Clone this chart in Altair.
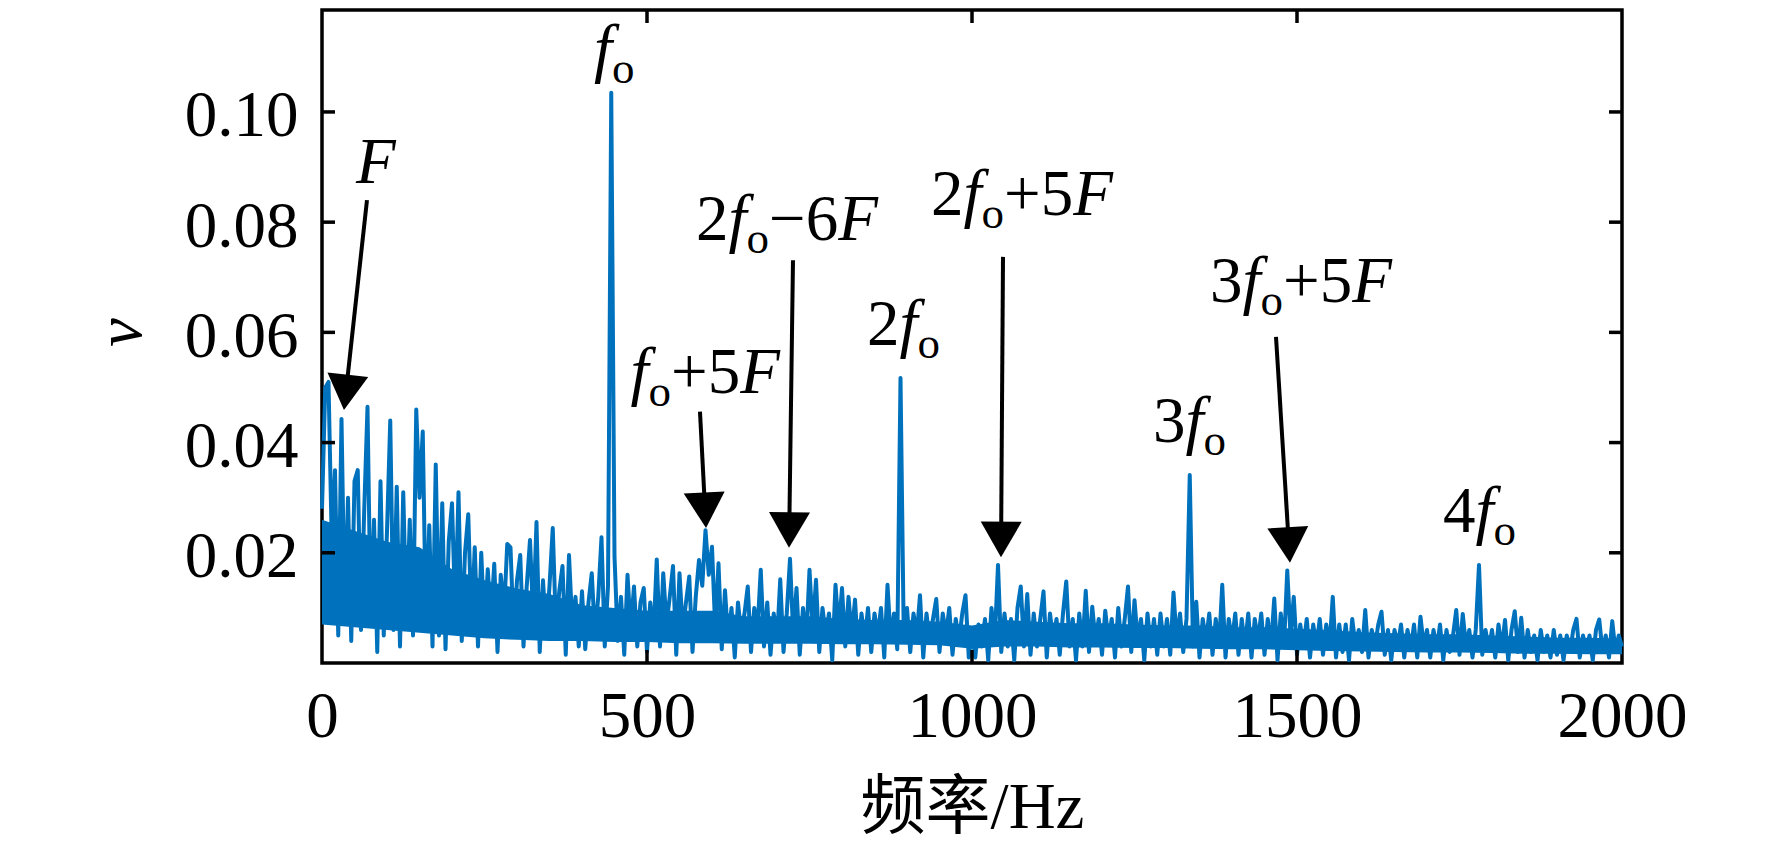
import math
import altair as alt
import pandas as pd

# ---------------- spectrum data (amplitude v, every 5 Hz, in units of 1e-3) ----------------
amp_0000 = [28, 50, 51, 22, 35, 5, 44.3, 8, 30, 4, 33, 35, 6, 28, 46.5, 7, 26, 2, 33, 5]
amp_0100 = [24, 44, 6, 32, 3, 31, 7, 26, 5, 46, 30, 42, 6, 25, 3, 36, 5, 29, 2.5, 22]
amp_0200 = [29, 9, 31, 4, 20, 27, 7, 21, 3, 20, 6, 17, 8, 18, 2, 16, 9, 21.6, 21, 5]
amp_0300 = [15, 19.6, 3, 14, 22.3, 8, 25.6, 2, 15, 5, 14, 24.5, 6, 13, 17.6, 1.5, 19.6, 7, 12, 3]
amp_0400 = [13, 2.5, 11, 16.3, 5, 12, 22.8, 3, 14, 103.5, 19.3, 4, 12, 1.5, 16, 6, 13.9, 3, 11, 13.6]
amp_0500 = [2, 11, 5, 18.8, 3, 16.3, 7, 12, 17.6, 1.5, 16.3, 6, 11, 15.7, 2, 12, 18.7, 14, 24.1, 16]
amp_0600 = [21.1, 6, 18.1, 2.5, 13.2, 4, 10, 1, 11, 5, 9, 13.9, 2, 10, 6, 16.9, 3, 11, 1.5, 9]
amp_0700 = [4, 15.2, 2, 9, 18.9, 5, 13.6, 1.5, 10, 4, 16.9, 6, 15.1, 2, 10, 5, 9, 0.5, 14.2, 6]
amp_0800 = [13.6, 3, 12, 5, 11.5, 1.5, 9, 4, 10, 2, 9, 5, 10, 1, 14.2, 4, 9, 2.5, 51.7, 5]
amp_0900 = [10, 2, 9, 5, 12.3, 1, 9, 4, 8, 11.6, 2, 9, 5, 10, 1.5, 8, 4, 9, 12.3, 1]
amp_1000 = [6, 1, 7, 3, 8, 0.5, 10, 4, 17.8, 2, 9, 3, 8, 0.5, 10, 13.9, 3, 12.5, 1.5, 9]
amp_1100 = [3, 8, 13, 1, 9, 4, 8, 1.5, 9, 14.8, 3, 8, 0.5, 9, 3, 13.1, 2, 10.2, 4, 8]
amp_1200 = [1.5, 9.5, 4, 8, 1, 10, 3, 8, 13.9, 2, 11.4, 4, 8, 0.5, 9, 3, 8, 1.5, 9, 3]
amp_1300 = [8, 1.5, 12.8, 4, 9, 2, 8, 34.1, 3, 11.1, 1, 8, 4, 9, 1.5, 8, 3, 14.2, 1, 8]
amp_1400 = [4, 9, 1.5, 8, 3, 9, 1, 8, 4, 9, 1.5, 8, 3, 11.7, 0.5, 9, 3, 16.8, 5, 12]
amp_1500 = [1.5, 7, 3, 8, 1, 7, 3, 8, 1.5, 7, 3, 12, 1, 7, 2, 7, 0.5, 8, 3, 6]
amp_1600 = [2, 9.6, 1, 6, 3, 7, 9.3, 1.5, 6, 0.5, 6, 3, 7, 1, 6, 2.5, 7, 1, 8.4, 3]
amp_1700 = [6, 1, 6, 2.5, 7, 0.5, 6, 2, 5, 9.6, 1.5, 8.9, 3, 6, 1, 6, 17.8, 1.5, 6, 2.5]
amp_1800 = [6, 1, 7, 2.5, 7.8, 0.5, 6, 9.4, 2, 8.2, 1, 6, 2, 5, 0.5, 6, 2, 5, 1, 6]
amp_1900 = [1.5, 5, 0.5, 5, 2, 6, 8, 1, 5, 2, 5, 0.5, 6, 7.9, 2, 5, 1, 7.6, 2, 5]
amp_2000 = [3]

# dense noise band of the spectrum (lower / upper edge of the solid core), every 50 Hz, 1e-3
core_low = [7, 6.5, 6, 5.5, 5, 4.5, 4.2, 4, 4, 3.8,
            3.8, 3.6, 3.6, 3.5, 3.5, 3.5, 3.4, 3.4, 3.3, 3.2,
            2.6, 3, 3, 2.8, 2.8, 2.7, 2.7, 2.6, 2.5, 2.5,
            2.3, 2.2, 2.1, 2, 1.9, 1.9, 1.8, 1.7, 1.7, 1.6,
            1.6]
core_high = [26, 24, 22, 21, 17, 15, 13.5, 12.5, 10.5, 10,
             9.5, 9.5, 9.5, 8.5, 8.5, 8.5, 8, 7.8, 7.8, 7.5,
             6.8, 7.8, 7.5, 7.2, 7.2, 7, 6.8, 6.8, 6.5, 6.5,
             6.2, 6, 5.6, 5.4, 5.2, 5.2, 5, 4.8, 4.6, 4.6,
             4.4]

STEP_HZ = 5
CORE_STEP_HZ = 50
amp_rows = [amp_0000, amp_0100, amp_0200, amp_0300, amp_0400, amp_0500, amp_0600,
            amp_0700, amp_0800, amp_0900, amp_1000, amp_1100, amp_1200, amp_1300,
            amp_1400, amp_1500, amp_1600, amp_1700, amp_1800, amp_1900, amp_2000]
amplitude = [a / 1000.0 for row in amp_rows for a in row]
frequency = [i * STEP_HZ for i in range(len(amplitude))]

# ---------------- axes ----------------
x_tick_values = [0, 500, 1000, 1500, 2000]
x_inner_ticks = [500, 1000, 1500]
y_tick_values = [0.02, 0.04, 0.06, 0.08, 0.10]
x_title = "频率/Hz"
y_title = "v"

# ---------------- annotations ----------------
# anchor = origin of first glyph on the baseline (Hz, v)
label_hz = [52.3, 418.5, 474.6, 575.4, 838.5, 936.9, 1366.2, 1278.5, 1724.6]
label_val = [0.0871, 0.1076, 0.0490, 0.0768, 0.0577, 0.0813, 0.0655, 0.0401, 0.0238]
label_parts = [
    [("F", "i")],
    [("f", "i"), ("o", "s")],
    [("f", "i"), ("o", "s"), ("+5", "r"), ("F", "i")],
    [("2", "r"), ("f", "i"), ("o", "s"), ("\u22126", "r"), ("F", "i")],
    [("2", "r"), ("f", "i"), ("o", "s")],
    [("2", "r"), ("f", "i"), ("o", "s"), ("+5", "r"), ("F", "i")],
    [("3", "r"), ("f", "i"), ("o", "s"), ("+5", "r"), ("F", "i")],
    [("3", "r"), ("f", "i"), ("o", "s")],
    [("4", "r"), ("f", "i"), ("o", "s")],
]
arrow_from_hz = [69.2, 581.5, 724.6, 1047.7, 1467.7]
arrow_from_val = [0.0840, 0.0456, 0.0731, 0.0737, 0.0592]
arrow_to_hz = [33.8, 590.8, 718.5, 1044.6, 1489.2]
arrow_to_val = [0.0459, 0.0245, 0.0209, 0.0192, 0.0182]

# ---------------- layout ----------------
W, H = 1300, 653
X_DOMAIN = [0, 2000]
Y_DOMAIN = [0, 0.1185]
px_per_hz = W / (X_DOMAIN[1] - X_DOMAIN[0])
px_per_val = H / (Y_DOMAIN[1] - Y_DOMAIN[0])

FONT = "Liberation Serif"
FONT_CJK = "Liberation Serif, Noto Sans CJK SC"
MAIN_SIZE = 65
SUB_SIZE = 45
SUB_DROP = 13
BLUE = "#0072BD"

em_regular = {"+": 0.564, "\u2212": 0.564}
em_italic = {"f": 0.278, "F": 0.611}


def seg_width(text, style):
    w = 0.0
    for ch in text:
        if style == "r":
            w += em_regular.get(ch, 0.5) * MAIN_SIZE
        elif style == "i":
            w += em_italic.get(ch, 0.5) * MAIN_SIZE
        else:
            w += 0.5 * SUB_SIZE
    return w


seg_rows = []
for hz, val, parts in zip(label_hz, label_val, label_parts):
    cum = 0.0
    for text, style in parts:
        seg_rows.append({"x": hz + cum / px_per_hz, "y": val, "text": text, "style": style})
        cum += seg_width(text, style)
seg_df = pd.DataFrame(seg_rows)

HEAD_W = 41
HEAD_SIZE = HEAD_W ** 2
HEAD_H = math.sqrt(3) / 2 * HEAD_W / 2  # centre-to-tip distance

shaft_rows, head_rows = [], []
for x0, y0, x1, y1 in zip(arrow_from_hz, arrow_from_val, arrow_to_hz, arrow_to_val):
    dxp = (x1 - x0) * px_per_hz
    dyp = -(y1 - y0) * px_per_val
    L = math.hypot(dxp, dyp)
    ux, uy = dxp / L, dyp / L
    cx = x1 - HEAD_H * ux / px_per_hz
    cy = y1 + HEAD_H * uy / px_per_val
    ang = math.degrees(math.atan2(-dxp, dyp)) % 360
    shaft_rows.append({"x": x0, "y": y0, "x2": cx, "y2": cy})
    head_rows.append({"x": cx, "y": cy, "angle": ang})
shaft_df = pd.DataFrame(shaft_rows)
head_df = pd.DataFrame(head_rows)

spec_df = pd.DataFrame({"x": frequency, "y": amplitude})
core_df = pd.DataFrame({
    "x": [i * CORE_STEP_HZ for i in range(len(core_low))],
    "y": [v / 1000.0 for v in core_low],
    "y2": [v / 1000.0 for v in core_high],
})
yt_df = pd.DataFrame({"y": y_tick_values})
xt_df = pd.DataFrame({"x": x_inner_ticks})

xs = alt.Scale(domain=X_DOMAIN, nice=False, zero=False)
ys = alt.Scale(domain=Y_DOMAIN, nice=False, zero=False)

x_axis = alt.Axis(values=x_tick_values, format="d", title=x_title, ticks=False, domain=False,
                  grid=False, labelFont=FONT, labelFontSize=MAIN_SIZE, labelColor="black",
                  labelPadding=22, labelFlush=False, labelOverlap=False,
                  titleFont=FONT_CJK, titleFontSize=MAIN_SIZE, titleFontWeight="normal",
                  titleColor="black", titleBaseline="alphabetic", titleY=164, titleX=W / 2,
                  titleAlign="center")
y_axis = alt.Axis(values=y_tick_values, format=".2f", title=y_title, ticks=False, domain=False,
                  grid=False, labelFont=FONT, labelFontSize=MAIN_SIZE, labelColor="black",
                  labelPadding=24, labelOffset=4, labelFlush=False, labelOverlap=False,
                  titleFont=FONT, titleFontStyle="italic", titleFontSize=MAIN_SIZE,
                  titleFontWeight="normal", titleColor="black", titleAngle=270,
                  titleBaseline="alphabetic", titleX=-182, titleY=322, titleAlign="center")

X = alt.X("x:Q", scale=xs, axis=x_axis)
Y = alt.Y("y:Q", scale=ys, axis=y_axis)

core = alt.Chart(core_df).mark_area(color=BLUE, opacity=1).encode(x=X, y=Y, y2="y2:Q")

spectrum = alt.Chart(spec_df).mark_line(color=BLUE, strokeWidth=4, strokeJoin="round").encode(
    x=X, y=Y)

shafts = alt.Chart(shaft_df).mark_rule(color="black", strokeWidth=4).encode(
    x=X, y=Y, x2="x2:Q", y2="y2:Q")
heads = alt.Chart(head_df).mark_point(shape="triangle-down", size=HEAD_SIZE, filled=True,
                                       color="black", opacity=1, strokeWidth=0).encode(
    x=X, y=Y, angle=alt.Angle("angle:Q", scale=None))


def text_layer(style, **kw):
    return alt.Chart(seg_df).transform_filter(alt.datum.style == style).mark_text(
        font=FONT, align="left", baseline="alphabetic", color="black", **kw
    ).encode(x=X, y=Y, text="text:N")


txt_r = text_layer("r", fontSize=MAIN_SIZE)
txt_i = text_layer("i", fontSize=MAIN_SIZE, fontStyle="italic")
txt_s = text_layer("s", fontSize=SUB_SIZE, dy=SUB_DROP)

TICK = 13
tick_l = alt.Chart(yt_df).mark_rule(color="black", strokeWidth=3.5).encode(
    y=Y, x=alt.value(0), x2=alt.value(TICK))
tick_r = alt.Chart(yt_df).mark_rule(color="black", strokeWidth=3.5).encode(
    y=Y, x=alt.value(W - TICK), x2=alt.value(W))
tick_b = alt.Chart(xt_df).mark_rule(color="black", strokeWidth=3.5).encode(
    x=X, y=alt.value(H), y2=alt.value(H - TICK))
tick_t = alt.Chart(xt_df).mark_rule(color="black", strokeWidth=3.5).encode(
    x=X, y=alt.value(0), y2=alt.value(TICK))

chart = alt.layer(
    core, spectrum, shafts, heads, txt_r, txt_i, txt_s, tick_l, tick_r, tick_b, tick_t
).properties(
    width=W, height=H,
    padding={"left": 314, "top": 2, "right": 130, "bottom": 184},
    autosize=alt.AutoSizeParams(type="none"),
    background="white",
).configure_view(
    stroke="black", strokeWidth=3.5
).configure_axis(grid=False)

chart.save("out.html", embed_options={"renderer": "svg", "actions": False})
